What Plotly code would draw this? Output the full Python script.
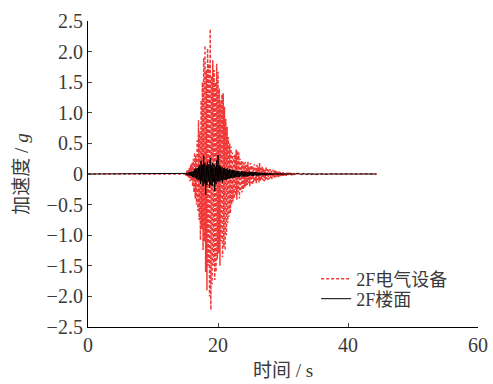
import numpy as np
import plotly.graph_objects as go

# ---- data ----
t_pre = [0.0, 14.9]
red_pre = [0.0, 0.0]
blk_pre = [0.0, 0.0]

# active segment: t = 15.0 .. 32.0, step 0.1
red_active = [
    0.02, -0.03, 0.05, -0.04, 0.08, -0.06, 0.10, -0.12, 0.15, -0.10,
    0.18, -0.20, 0.25, -0.30, 0.35, -0.40, 0.30, -0.50, 0.55, -0.60,
    0.88, -0.75, 0.70, -1.08, 1.20, -0.90, 1.50, -1.24, 1.90, -1.10,
    2.10, -1.60, 1.70, -1.90, 2.05, -1.50, 1.80, -2.00, 2.37, -2.22,
    1.60, -1.80, 1.86, -1.50, 1.70, -1.73, 1.50, -1.60, 1.80, -1.40,
    1.67, -1.30, 1.40, -1.50, 1.20, -1.10, 1.30, -1.36, 1.32, -1.20,
    1.10, -1.25, 0.90, -1.00, 0.77, -0.80, 0.60, -0.70, 0.50, -0.64,
    0.45, -0.50, 0.35, -0.45, 0.30, -0.40, 0.32, -0.35, 0.40, -0.42,
    0.38, -0.30, 0.35, -0.40, 0.25, -0.28, 0.22, -0.30, 0.20, -0.25,
    0.18, -0.22, 0.20, -0.20, 0.15, -0.18, 0.20, -0.15, 0.12, -0.20,
    0.18, -0.15, 0.14, -0.18, 0.12, -0.14, 0.16, -0.12, 0.10, -0.15,
    0.15, -0.10, 0.12, -0.14, 0.18, -0.12, 0.10, -0.10, 0.12, -0.10,
    0.10, -0.12, 0.08, -0.10, 0.12, -0.08, 0.08, -0.10, 0.07, -0.08,
    0.08, -0.07, 0.06, -0.08, 0.07, -0.06, 0.05, -0.06, 0.06, -0.05,
    0.05, -0.05, 0.04, -0.05, 0.04, -0.04, 0.03, -0.04, 0.03, -0.03,
    0.03, -0.03, 0.03, -0.02, 0.02, -0.03, 0.02, -0.02, 0.02, -0.02,
    0.02, -0.02, 0.015, -0.02, 0.015, -0.015, 0.01, -0.015, 0.01, -0.01, 0.01,
]
blk_active = [
    0.01, -0.01, 0.02, -0.02, 0.02, -0.02, 0.03, -0.03, 0.03, -0.03,
    0.04, -0.05, 0.05, -0.06, 0.08, -0.06, 0.09, -0.08, 0.10, -0.09,
    0.12, -0.10, 0.14, -0.16, 0.22, -0.12, 0.15, -0.20, 0.30, -0.15,
    0.18, -0.34, 0.14, -0.18, 0.20, -0.12, 0.16, -0.22, 0.26, -0.18,
    0.14, -0.20, 0.18, -0.13, 0.15, -0.28, 0.12, -0.16, 0.22, -0.12,
    0.31, -0.12, 0.14, -0.12, 0.12, -0.10, 0.11, -0.14, 0.10, -0.09,
    0.10, -0.10, 0.08, -0.09, 0.09, -0.08, 0.07, -0.08, 0.08, -0.07,
    0.07, -0.06, 0.07, -0.07, 0.06, -0.06, 0.06, -0.05, 0.05, -0.05,
    0.05, -0.05, 0.05, -0.05, 0.04, -0.04, 0.05, -0.04, 0.04, -0.04,
    0.04, -0.04, 0.04, -0.04, 0.03, -0.04, 0.03, -0.03, 0.04, -0.03,
    0.03, -0.03, 0.03, -0.03, 0.03, -0.03, 0.03, -0.02, 0.03, -0.03,
    0.03, -0.02, 0.02, -0.03, 0.02, -0.02, 0.02, -0.02, 0.02, -0.02,
    0.02, -0.02, 0.02, -0.02, 0.015, -0.02, 0.015, -0.015, 0.015, -0.015,
    0.015, -0.015, 0.01, -0.015, 0.01, -0.01, 0.01, -0.01, 0.01, -0.01,
    0.01, -0.01, 0.01, -0.01, 0.01, -0.01, 0.01, -0.01, 0.01, -0.01,
    0.008, -0.008, 0.008, -0.008, 0.008, -0.008, 0.006, -0.006, 0.006, -0.006,
    0.005, -0.005, 0.005, -0.005, 0.005, -0.005, 0.005, -0.005, 0.005, -0.005, 0.005,
]
# tail: t = 32.4 .. 44.4, step 0.4
red_tail = [
    0.008, -0.008, 0.007, -0.008, 0.007, -0.006, 0.006, -0.006, 0.005, -0.005,
    0.005, -0.005, 0.004, -0.004, 0.004, -0.004, 0.003, -0.003, 0.003, -0.003,
    0.003, -0.002, 0.002, -0.002, 0.002, -0.002, 0.002, -0.001, 0.001, -0.001, 0.0,
]
blk_tail = [
    0.004, -0.004, 0.004, -0.003, 0.003, -0.003, 0.003, -0.003, 0.002, -0.002,
    0.002, -0.002, 0.002, -0.002, 0.002, -0.001, 0.001, -0.001, 0.001, -0.001,
    0.001, -0.001, 0.001, -0.001, 0.001, 0.0, 0.0, 0.0, 0.0, 0.0, 0.0,
]

series_names = ["2F电气设备", "2F楼面"]
x_ticks = [0, 20, 40, 60]
y_ticks = [-2.5, -2.0, -1.5, -1.0, -0.5, 0, 0.5, 1.0, 1.5, 2.0, 2.5]
y_ticktext = ["\u22122.5", "\u22122.0", "\u22121.5", "\u22121.0", "\u22120.5", "0",
              "0.5", "1.0", "1.5", "2.0", "2.5"]

# ---- build time axes ----
t_active = np.round(15.0 + 0.1 * np.arange(len(red_active)), 2)
t_tail = np.round(32.4 + 0.4 * np.arange(len(red_tail)), 2)
t = np.concatenate([t_pre, t_active, t_tail])
red = np.concatenate([red_pre, red_active, red_tail])
blk = np.concatenate([blk_pre, blk_active, blk_tail])

SERIF = "Liberation Serif, Times New Roman, serif"
CJK = "Liberation Serif, Noto Sans CJK SC, serif"
TXT = "#3a3a3a"

fig = go.Figure()
fig.add_trace(go.Scatter(x=t, y=red, mode="lines", name=series_names[0], legend="legend",
                         line=dict(color="rgba(238,40,40,0.92)", width=1.5, dash="3px,2px")))
fig.add_trace(go.Scatter(x=t, y=blk, mode="lines", name=series_names[1], legend="legend2",
                         line=dict(color="black", width=1)))

leg_common = dict(xanchor="left", yanchor="middle", bgcolor="rgba(0,0,0,0)",
                  font=dict(size=18, family=CJK, color=TXT), itemwidth=30,
                  borderwidth=0)

fig.update_layout(
    width=493, height=384,
    margin=dict(l=88, r=15, t=21, b=57, autoexpand=False),
    paper_bgcolor="white", plot_bgcolor="white",
    font=dict(family=CJK, size=20, color=TXT),
    showlegend=True,
    legend=dict(x=0.585, y=(327 - 279) / 306, **leg_common),
    legend2=dict(x=0.585, y=(327 - 299) / 306, **leg_common),
    xaxis=dict(range=[0, 60], tickvals=x_ticks, ticks="inside", ticklen=4, automargin=False,
               showline=True, linecolor="black", linewidth=1.2, showgrid=False,
               zeroline=False, mirror=False,
               tickfont=dict(family=SERIF, size=20, color=TXT),
               title=dict(text="时间 / s", font=dict(family=CJK, size=19, color=TXT), standoff=8)),
    yaxis=dict(range=[-2.5, 2.5], tickvals=y_ticks, ticktext=y_ticktext, ticks="inside",
               ticklen=4, showline=True, linecolor="black", linewidth=1.2, showgrid=False,
               zeroline=False, automargin=False,
               tickfont=dict(family=SERIF, size=20, color=TXT),
               title=dict(text="加速度 / <i>g</i>", font=dict(family=CJK, size=19, color=TXT), standoff=12)),
)

fig.write_html("out.html")
